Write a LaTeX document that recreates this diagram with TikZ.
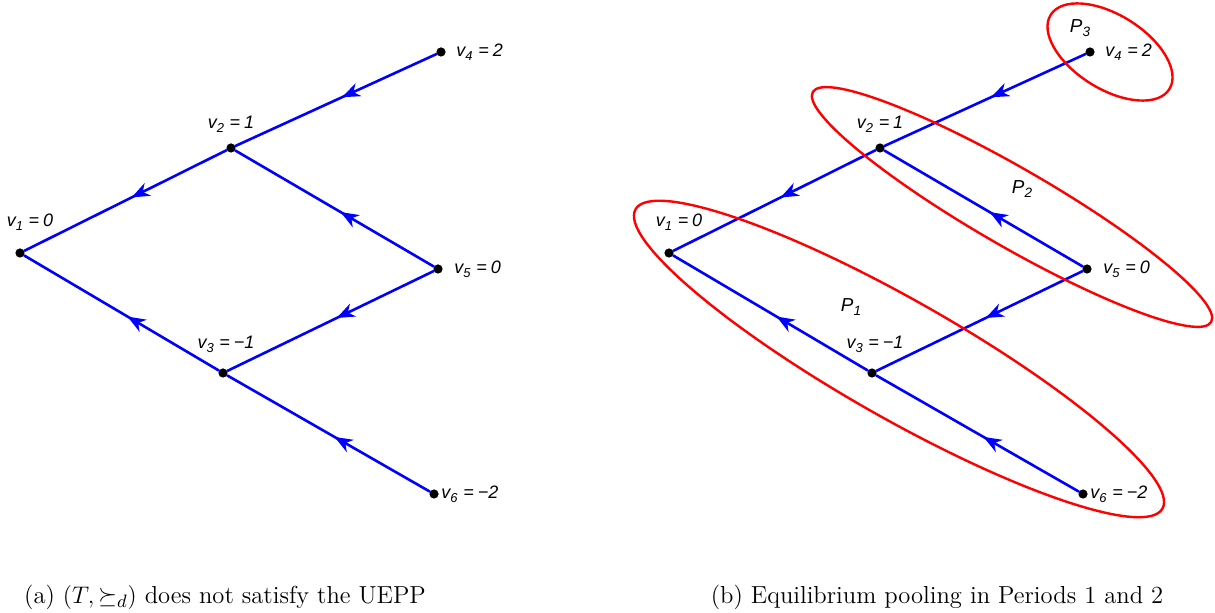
\documentclass[tikz,border=0pt]{standalone}
\usepackage{amsmath,amssymb}
\usepackage{fontspec}
\usetikzlibrary{arrows.meta,positioning,decorations.markings}
\newfontfamily\labfont{Liberation Sans}
\definecolor{Eline}{HTML}{0000FF}
\definecolor{Pline}{HTML}{FF0000}
\newcommand{\vl}[2]{v\raisebox{-0.45ex}{\scalebox{0.72}{#1}}\hspace{0.32em}=\hspace{0.22em}#2}
\newcommand{\pl}[1]{P\raisebox{-0.45ex}{\scalebox{0.72}{#1}}}

\begin{document}
\begin{tikzpicture}[x=0.5pt,y=-0.5pt,line join=round,line cap=round,
  vtx/.style={circle,fill=black,inner sep=0pt,minimum size=4.6pt},
  lab/.style={font=\labfont\itshape\fontsize{9}{10}\selectfont,inner sep=0pt},
  plab/.style={font=\labfont\itshape\fontsize{9.4}{10}\selectfont,inner sep=0pt},
  edge/.style={Eline,line width=1.3pt,postaction={decorate},
    decoration={markings,mark=at position 0.47 with
      {\arrow{Stealth[length=9pt,width=7pt,inset=2.8pt]}}}},
  pool/.style={Pline,line width=1.2pt},
  captext/.style={font=\fontsize{12.3}{14}\selectfont,inner sep=0pt}]
\useasboundingbox (0,0) rectangle (1215,613);

% ---- the two trees: (a) at the left, (b) shifted to the right ----
\foreach \p/\dx in {a/0,b/649}{
  \foreach \n/\x/\y in {1/20/253,2/231/148,3/223/373,4/441/52,5/438/269,6/434/494}
    \node[vtx] (\p\n) at (\x+\dx,\y) {};
  \foreach \c/\q in {4/2,2/1,5/2,5/3,3/1,6/3}
    \draw[edge] (\p\c) -- (\p\q);
  % ---- vertex values ----
  \node[lab,above=8.5pt of \p1,xshift=5pt] (\p1l) {\vl{1}{0}};
  \node[lab,above=5pt of \p2] (\p2l) {\vl{2}{1}};
  \node[lab,above=7.5pt of \p3,xshift=1.5pt] (\p3l) {\vl{3}{−1}};
  \node[lab,right=5pt of \p4] (\p4l) {\vl{4}{2}};
  \node[lab,right=5.5pt of \p5] (\p5l) {\vl{5}{0}};
  \node[lab,right=1pt of \p6] (\p6l) {\vl{6}{−2}};
}

% ---- the pools of panel (b) ----
\coordinate (P1c) at (899,359);
\coordinate (P2c) at (1012,207);
\coordinate (P3c) at (1110,52);
\draw[pool,rotate around={-29.6:(P1c)}] (P1c) ellipse[x radius=151.5pt,y radius=29.5pt];
\draw[pool,rotate around={-30:(P2c)}] (P2c) ellipse[x radius=115pt,y radius=19.5pt];
\draw[pool,rotate around={-32:(P3c)}] (P3c) ellipse[x radius=35pt,y radius=18.5pt];
\node[plab] (P1) at (851,307) {\pl{1}};
\node[plab] (P2) at (1022,189) {\pl{2}};
\node[plab] (P3) at (1080,28) {\pl{3}};

% ---- captions ----
\node[captext] (capa) at (225,597) {(a) $(T,\succeq_d)$ does not satisfy the UEPP};
\node[captext] (capb) at (937,597) {(b) Equilibrium pooling in Periods 1 and 2};
\end{tikzpicture}
\end{document}
